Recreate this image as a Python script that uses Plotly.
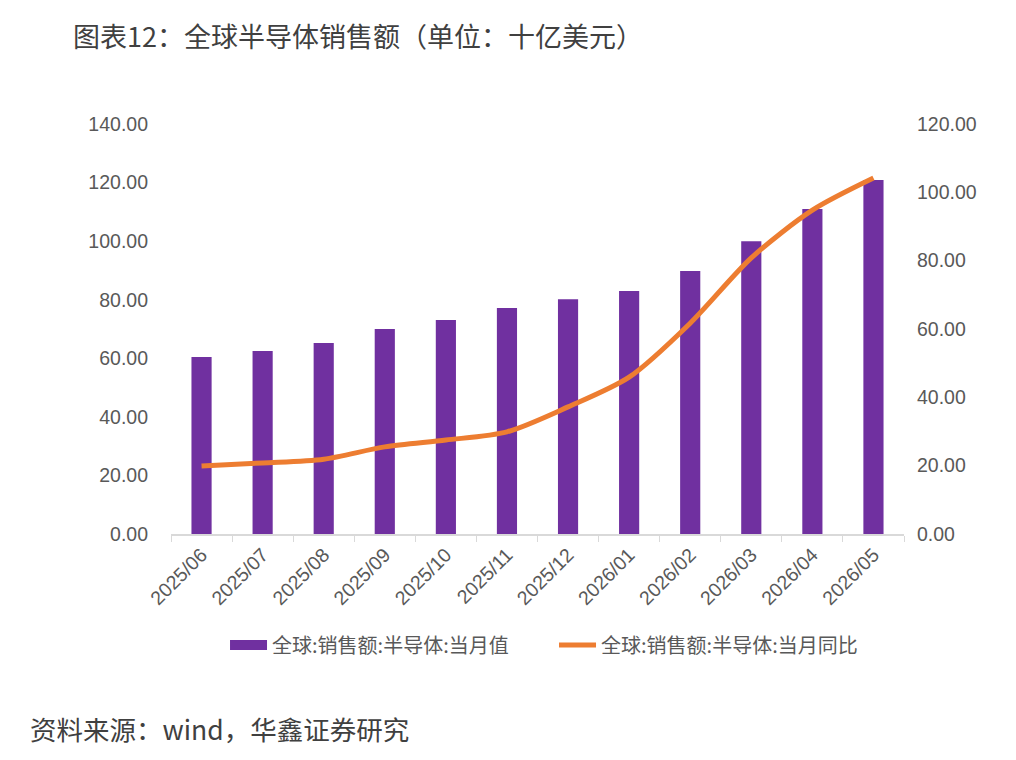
import plotly.graph_objects as go

# 全球半导体销售额（十亿美元）与同比
months = ["2025/06", "2025/07", "2025/08", "2025/09", "2025/10", "2025/11",
          "2025/12", "2026/01", "2026/02", "2026/03", "2026/04", "2026/05"]
sales = [60.4, 62.5, 65.2, 70.0, 73.1, 77.2, 80.2, 83.0, 89.8, 100.0, 111.0, 120.9]
yoy = [19.9, 20.8, 21.9, 25.5, 27.5, 29.9, 37.2, 45.9, 61.7, 80.8, 94.8, 104.2]

PURPLE = "#7030a0"
ORANGE = "#ed7d31"
FONT = "Liberation Sans, Noto Sans CJK SC, Arial, sans-serif"
CJK = "Noto Sans CJK SC, sans-serif"

fig = go.Figure()
fig.add_trace(go.Bar(
    x=months, y=sales, name="全球:销售额:半导体:当月值",
    marker=dict(color=PURPLE, line=dict(width=0)), showlegend=False,
))
# 图例里用宽色块代替柱形小方块
fig.add_trace(go.Scatter(
    x=[None], y=[None], name="全球:销售额:半导体:当月值",
    mode="lines", line=dict(color=PURPLE, width=12),
))
fig.add_trace(go.Scatter(
    x=months, y=yoy, name="全球:销售额:半导体:当月同比", yaxis="y2",
    mode="lines", line=dict(color=ORANGE, width=5, shape="spline", smoothing=0.8),
))

fig.update_layout(
    width=1016, height=760,
    paper_bgcolor="white", plot_bgcolor="white",
    margin=dict(l=163, r=120, t=116, b=234, autoexpand=False),
    font=dict(family=FONT, size=19.5, color="#595959"),
    bargap=0.67,
    legend=dict(orientation="h", x=0.0737, xanchor="left", y=-0.271, yanchor="middle",
                entrywidth=277, entrywidthmode="pixels", itemwidth=37,
                font=dict(family=CJK, size=20, color="#595959")),
    xaxis=dict(
        type="category", showline=True, linecolor="#d9d9d9", linewidth=1.5,
        ticks="outside", tickson="boundaries", ticklen=6, tickcolor="#d9d9d9",
        tickangle=-45, showgrid=False,
    ),
    yaxis=dict(range=[0, 140], dtick=20, tickformat=".2f", showgrid=False,
               zeroline=False, showline=False, ticklabelstandoff=22),
    yaxis2=dict(range=[0, 120], dtick=20, tickformat=".2f", showgrid=False,
                zeroline=False, showline=False, overlaying="y", side="right",
                ticklabelstandoff=12),
    annotations=[
        dict(text="图表12：全球半导体销售额（单位：十亿美元）", xref="paper", yref="paper",
             x=-0.137, y=1.217, xanchor="left", yanchor="middle", showarrow=False,
             font=dict(family=CJK, size=27, color="#404040")),
        dict(text="资料来源：wind，华鑫证券研究", xref="paper", yref="paper",
             x=-0.195, y=-0.475, xanchor="left", yanchor="middle", showarrow=False,
             font=dict(family=CJK, size=26.5, color="#404040")),
    ],
)

fig.write_html("out.html")
